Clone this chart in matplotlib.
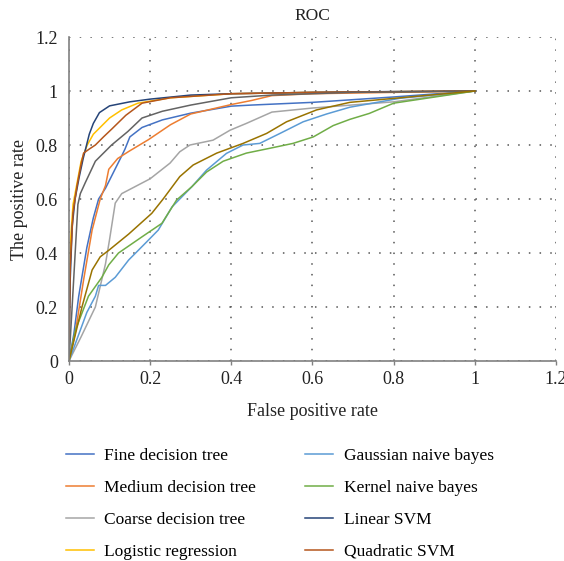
import matplotlib
matplotlib.use("Agg")
import matplotlib.pyplot as plt

plt.rcParams['font.family'] = ['Liberation Serif', 'DejaVu Serif']

# ---- data ----
fine_x = [0, 0.012, 0.024, 0.044, 0.06, 0.073, 0.09, 0.11, 0.13, 0.138, 0.142, 0.15, 0.18, 0.23, 0.3, 0.4, 0.45, 0.6, 0.8, 1.0]
fine_y = [0, 0.10, 0.24, 0.42, 0.53, 0.60, 0.64, 0.70, 0.76, 0.785, 0.80, 0.83, 0.865, 0.893, 0.918, 0.944, 0.948, 0.958, 0.978, 1.0]

medium_x = [0, 0.015, 0.036, 0.057, 0.077, 0.09, 0.098, 0.12, 0.147, 0.196, 0.25, 0.3, 0.4, 0.45, 0.5, 0.6, 0.8, 1.0]
medium_y = [0, 0.10, 0.30, 0.485, 0.60, 0.65, 0.71, 0.75, 0.776, 0.82, 0.875, 0.915, 0.95, 0.965, 0.983, 0.99, 0.995, 1.0]

coarse_x = [0, 0.03, 0.065, 0.09, 0.10, 0.114, 0.13, 0.2, 0.249, 0.273, 0.298, 0.355, 0.397, 0.437, 0.5, 0.6, 0.8, 1.0]
coarse_y = [0, 0.09, 0.20, 0.36, 0.45, 0.585, 0.62, 0.675, 0.733, 0.775, 0.80, 0.818, 0.855, 0.88, 0.922, 0.937, 0.96, 1.0]

logistic_x = [0, 0, 0.004, 0.01, 0.02, 0.03, 0.045, 0.06, 0.08, 0.1, 0.13, 0.17, 0.25, 0.4, 0.6, 1.0]
logistic_y = [0, 0.15, 0.45, 0.58, 0.66, 0.74, 0.80, 0.84, 0.87, 0.90, 0.93, 0.955, 0.975, 0.99, 0.995, 1.0]

gauss_x = [0, 0.044, 0.065, 0.073, 0.09, 0.114, 0.147, 0.188, 0.22, 0.254, 0.273, 0.303, 0.339, 0.388, 0.429, 0.47, 0.52, 0.577, 0.635, 0.692, 0.815, 1.0]
gauss_y = [0, 0.18, 0.24, 0.28, 0.28, 0.31, 0.374, 0.436, 0.485, 0.571, 0.60, 0.646, 0.707, 0.769, 0.80, 0.806, 0.843, 0.886, 0.915, 0.94, 0.973, 1.0]

kernel_x = [0, 0.016, 0.048, 0.081, 0.098, 0.122, 0.18, 0.229, 0.265, 0.303, 0.339, 0.38, 0.437, 0.495, 0.552, 0.602, 0.651, 0.692, 0.74, 0.8, 1.0]
kernel_y = [0, 0.115, 0.24, 0.31, 0.356, 0.40, 0.46, 0.51, 0.596, 0.646, 0.70, 0.74, 0.77, 0.788, 0.806, 0.83, 0.872, 0.895, 0.917, 0.955, 1.0]

linear_x = [0, 0.003, 0.008, 0.015, 0.025, 0.035, 0.05, 0.06, 0.075, 0.1, 0.15, 0.2, 0.3, 0.4, 0.6, 0.8, 1.0]
linear_y = [0, 0.30, 0.50, 0.60, 0.68, 0.75, 0.84, 0.88, 0.92, 0.945, 0.96, 0.97, 0.985, 0.99, 0.995, 0.998, 1.0]

quad_x = [0, 0.003, 0.01, 0.02, 0.03, 0.036, 0.05, 0.065, 0.085, 0.106, 0.14, 0.18, 0.25, 0.4, 0.6, 1.0]
quad_y = [0, 0.35, 0.55, 0.65, 0.73, 0.77, 0.785, 0.80, 0.83, 0.86, 0.91, 0.955, 0.975, 0.99, 0.995, 1.0]

# two further curves drawn in the chart but not listed in its legend
extra1_x = [0, 0.007, 0.016, 0.022, 0.028, 0.04, 0.065, 0.105, 0.145, 0.18, 0.23, 0.3, 0.4, 0.5, 0.7, 1.0]
extra1_y = [0, 0.18, 0.42, 0.58, 0.62, 0.66, 0.74, 0.80, 0.85, 0.90, 0.925, 0.948, 0.975, 0.985, 0.995, 1.0]

extra2_x = [0, 0.032, 0.057, 0.077, 0.098, 0.147, 0.204, 0.232, 0.273, 0.306, 0.364, 0.429, 0.487, 0.536, 0.61, 0.692, 1.0]
extra2_y = [0, 0.20, 0.337, 0.386, 0.41, 0.47, 0.547, 0.60, 0.683, 0.726, 0.77, 0.806, 0.843, 0.886, 0.93, 0.958, 1.0]

series = [
    ("Fine decision tree", fine_x, fine_y, "#4472C4"),
    ("Medium decision tree", medium_x, medium_y, "#ED7D31"),
    ("Coarse decision tree", coarse_x, coarse_y, "#A5A5A5"),
    ("Logistic regression", logistic_x, logistic_y, "#FFC000"),
    ("Gaussian naive bayes", gauss_x, gauss_y, "#5B9BD5"),
    ("Kernel naive bayes", kernel_x, kernel_y, "#70AD47"),
    ("Linear SVM", linear_x, linear_y, "#264478"),
    ("Quadratic SVM", quad_x, quad_y, "#B5561C"),
    ("_extra1", extra1_x, extra1_y, "#636363"),
    ("_extra2", extra2_x, extra2_y, "#997300"),
]

ticks = [0, 0.2, 0.4, 0.6, 0.8, 1, 1.2]
tick_labels = ["0", "0.2", "0.4", "0.6", "0.8", "1", "1.2"]

fig = plt.figure(figsize=(5.64, 5.61), dpi=100)
ax = fig.add_axes([0.1223, 0.3565, 0.8635, 0.5775])

for name, xs, ys, c in series:
    ax.plot(xs, ys, color=c, lw=1.1, label=name)

ax.set_xlim(0, 1.2)
ax.set_ylim(0, 1.2)
ax.set_xticks(ticks)
ax.set_yticks(ticks)
ax.set_xticklabels(tick_labels)
ax.set_yticklabels(tick_labels)
ax.tick_params(axis='x', length=3, width=1, color='#808080', labelsize=13, pad=4, labelcolor='#222222')
ax.tick_params(axis='y', length=0, labelsize=13, pad=8, labelcolor='#222222')
ax.grid(True, linestyle=(0, (1, 6)), color='#555555', linewidth=1.1)
for s in ['top', 'right']:
    ax.spines[s].set_visible(False)
for s in ['left', 'bottom']:
    ax.spines[s].set_color('#808080')
    ax.spines[s].set_linewidth(1.2)

ax.set_title("ROC", fontsize=12.5, pad=12, color='#222222')
ax.set_xlabel("False positive rate", fontsize=13, labelpad=11, color='#222222')
ax.set_ylabel("The positive rate", fontsize=13, labelpad=5, color='#222222')

handles, labels = ax.get_legend_handles_labels()
fig.legend(handles, labels, loc='upper left', bbox_to_anchor=(0.0892, 0.229), ncol=2,
           frameon=False, fontsize=12.5, handlelength=1.6, handletextpad=0.6,
           columnspacing=2.85, labelspacing=0.9)

fig.savefig("out.png", dpi=100)
